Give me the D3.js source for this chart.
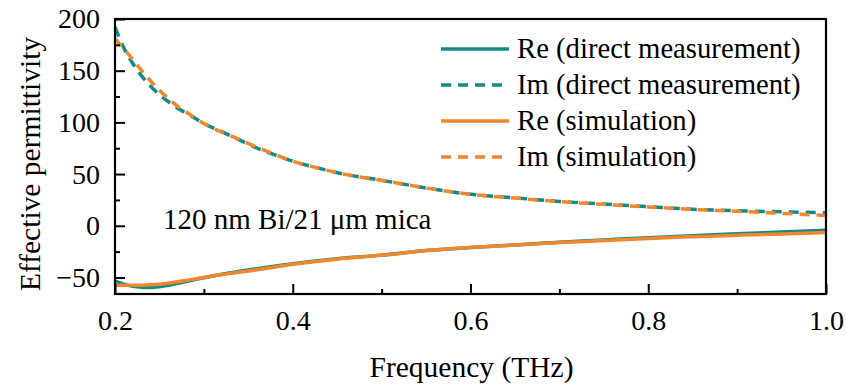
<!DOCTYPE html>
<html><head><meta charset="utf-8">
<script src="https://cdn.jsdelivr.net/npm/d3@7/dist/d3.min.js"></script>
<style>body{margin:0;background:#fff}svg{display:block}
svg text{font-family:"Liberation Serif","Tinos","Times New Roman","Nimbus Roman","DejaVu Serif",serif;}</style>
</head><body>
<svg id="c" width="846" height="385"></svg>
<script>
// Frequencies (THz)
const freqImDirect = [0.20,0.21,0.22,0.23,0.24,0.25,0.26,0.27,0.28,0.29,0.30,0.32,0.34,0.36,0.38,0.40,0.43,0.46,0.50,0.55,0.60,0.65,0.70,0.75,0.80,0.85,0.90,0.95,1.00];
const imDirect     = [192,172,157,145,135,127,120,114,109,104,99,91,83,75,68.5,62.5,55.5,49.5,44,36.5,30.5,27,23.5,21,18.5,16,14.5,13.5,12.5];
const freqImSim    = [0.20,0.21,0.22,0.23,0.24,0.25,0.26,0.27,0.28,0.29,0.30,0.32,0.34,0.36,0.38,0.40,0.43,0.46,0.50,0.55,0.60,0.65,0.70,0.75,0.80,0.85,0.90,0.95,1.00];
const imSim        = [181,171,161,150,140,131,123,116,110,104.5,99,90.5,83.5,76,69,62.5,55.5,49.5,44,36.5,30.5,26.8,23.3,20.7,18.2,15.8,14,12,10];
const freqReDirect = [0.20,0.21,0.22,0.23,0.24,0.25,0.26,0.28,0.30,0.33,0.36,0.40,0.45,0.50,0.55,0.60,0.65,0.70,0.75,0.80,0.85,0.90,0.95,1.00];
const reDirect     = [-53.5,-56.5,-58.5,-59.5,-59.8,-59,-57.5,-54,-50.3,-45.5,-41.5,-36.8,-32,-28.4,-24,-21,-18.5,-15.9,-13.7,-11.5,-9.6,-7.8,-6.0,-4.4];
const freqReSim    = [0.20,0.22,0.24,0.26,0.28,0.30,0.33,0.36,0.40,0.45,0.50,0.55,0.60,0.65,0.70,0.75,0.80,0.85,0.90,0.95,1.00];
const reSim        = [-57.5,-57.5,-57,-55.5,-53,-50,-46,-42.5,-37.3,-32.3,-28.6,-24,-21,-18.7,-16.3,-14.3,-12.2,-10.6,-9.2,-7.9,-6.6];

const xTicks = [0.2,0.4,0.6,0.8,1.0];
const xMinorTicks = [0.3,0.5,0.7,0.9];
const yTicks = [-50,0,50,100,150,200];
const yMinorTicks = [-25,25,75,125,175];

const legendLabels = ["Re (direct measurement)","Im (direct measurement)","Re (simulation)","Im (simulation)"];
const annotation = "120 nm Bi/21 \u03bcm mica";

const TEAL = "#128a89", ORANGE = "#f0872d";
const FONT = "Liberation Serif, Tinos, Times New Roman, DejaVu Serif, serif";

const svg = d3.select("#c");
const L = 115, R = 826, T = 19, B = 294;
const x = d3.scaleLinear().domain([0.2,1.0]).range([L,R]);
const y = d3.scaleLinear().domain([-66,200]).range([B,T]);

const series = [
  {f:freqReDirect, v:reDirect, color:TEAL, dash:null},
  {f:freqReSim, v:reSim, color:ORANGE, dash:null},
  {f:freqImDirect, v:imDirect, color:TEAL, dash:"10,7"},
  {f:freqImSim, v:imSim, color:ORANGE, dash:"10,7"}
];
const line = d3.line().x(d=>x(d[0])).y(d=>y(d[1])).curve(d3.curveMonotoneX);
svg.append("clipPath").attr("id","cp").append("rect")
  .attr("x",L).attr("y",T).attr("width",R-L).attr("height",B-T);
const g = svg.append("g").attr("clip-path","url(#cp)");
series.forEach(s=>{
  g.append("path").datum(s.f.map((f,j)=>[f,s.v[j]]))
   .attr("d",line).attr("fill","none").attr("stroke",s.color)
   .attr("stroke-width",3.5).attr("stroke-dasharray",s.dash)
   .attr("stroke-linejoin","round");
});

// Axes
const xAxis = d3.axisBottom(x).tickValues(xTicks).tickFormat(d3.format(".1f")).tickSizeInner(-10).tickSizeOuter(0).tickPadding(16);
const xMinor = d3.axisBottom(x).tickValues(xMinorTicks).tickFormat("").tickSizeInner(-5).tickSizeOuter(0);
const yAxis = d3.axisLeft(y).tickValues(yTicks).tickFormat(d=>d<0?"\u2212"+Math.abs(d):d).tickSizeInner(-10).tickSizeOuter(0).tickPadding(15);
const yMinor = d3.axisLeft(y).tickValues(yMinorTicks).tickFormat("").tickSizeInner(-5).tickSizeOuter(0);

[[xAxis,"translate(0,"+B+")"],[xMinor,"translate(0,"+B+")"],[yAxis,"translate("+L+",0)"],[yMinor,"translate("+L+",0)"]].forEach(([ax,tr])=>{
  const a = svg.append("g").attr("transform",tr).call(ax).attr("font-family",null);
  a.select(".domain").remove();
  a.selectAll("line").attr("stroke","#000").attr("stroke-width",2);
  a.selectAll("text").style("font-family",FONT).style("font-size","28px").attr("fill","#000");
});

svg.append("rect").attr("x",L).attr("y",T).attr("width",R-L).attr("height",B-T)
  .attr("fill","none").attr("stroke","#000").attr("stroke-width",2.2);

// Titles
svg.append("text").attr("x",(L+R)/2+1).attr("y",377).attr("text-anchor","middle")
  .style("font-family",FONT).style("font-size","29.5px").text("Frequency (THz)");
svg.append("text").attr("transform","translate(40,164) rotate(-90)").attr("text-anchor","middle")
  .style("font-family",FONT).style("font-size","29.5px").text("Effective permittivity");

// Annotation
svg.append("text").attr("x",163).attr("y",229).style("font-family",FONT).style("font-size","29px").text(annotation);

// Legend
const legColors=[TEAL,TEAL,ORANGE,ORANGE], legDash=[null,"10,7",null,"10,7"];
legendLabels.forEach((lab,i)=>{
  const yy = 49 + i*36;
  svg.append("line").attr("x1",441).attr("x2",509).attr("y1",yy).attr("y2",yy)
    .attr("stroke",legColors[i]).attr("stroke-width",3.5).attr("stroke-dasharray",legDash[i]);
  svg.append("text").attr("x",517).attr("y",yy+9).style("font-family",FONT).style("font-size","28.7px").text(lab);
});
</script>
</body></html>
